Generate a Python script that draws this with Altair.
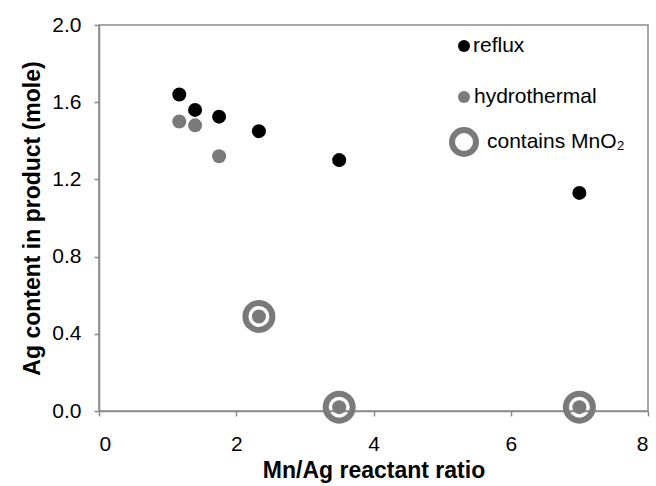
import altair as alt
import pandas as pd

# Data
reflux_x = [1.17, 1.4, 1.75, 2.33, 3.5, 7.0]
reflux_y = [1.64, 1.56, 1.525, 1.45, 1.30, 1.13]
hydro_x = [1.17, 1.4, 1.75, 2.33, 3.5, 7.0]
hydro_y = [1.50, 1.48, 1.32, 0.49, 0.02, 0.02]
mno2_x = [2.33, 3.5, 7.0]
mno2_y = [0.49, 0.02, 0.02]

series = ["reflux", "hydrothermal", "contains MnO\u2082"]

dots = pd.DataFrame(
    [{"ratio": x, "ag": y, "series": series[0]} for x, y in zip(reflux_x, reflux_y)]
    + [{"ratio": x, "ag": y, "series": series[1]} for x, y in zip(hydro_x, hydro_y)]
)
rings = pd.DataFrame({"ratio": mno2_x, "ag": mno2_y})
legend_df = pd.DataFrame({"series": series})

FONT = "Liberation Sans"
AXIS_GRAY = "#8a8a8a"
GRAY = "#7a7a7a"
color_scale = alt.Scale(domain=series[:2], range=["black", GRAY])

xenc = alt.X("ratio:Q", scale=alt.Scale(domain=[0, 8], nice=False),
             axis=alt.Axis(values=[0, 2, 4, 6, 8], title="Mn/Ag reactant ratio",
                           labelPadding=17, titlePadding=5))
yenc = alt.Y("ag:Q", scale=alt.Scale(domain=[0, 2], nice=False),
             axis=alt.Axis(values=[0, 0.4, 0.8, 1.2, 1.6, 2.0], format=".1f",
                           title="Ag content in product (mole)",
                           labelPadding=13, titlePadding=7))

ring_layer = alt.Chart(rings).mark_point(
    shape="circle", size=729, strokeWidth=6, stroke=GRAY, filled=False, opacity=1
).encode(x=xenc, y=yenc)

dot_layer = alt.Chart(dots).mark_circle(size=196, opacity=1).encode(
    x=xenc, y=yenc,
    color=alt.Color("series:N", scale=color_scale, legend=None),
)


def legend_row(name, y_px, text_x):
    base = alt.Chart(legend_df).transform_filter(alt.datum.series == name)
    text = base.mark_text(
        align="left", baseline="middle", font=FONT, fontSize=21, color="black"
    ).encode(x=alt.value(text_x), y=alt.value(y_px), text="series:N")
    if name == series[2]:
        sym = base.mark_point(
            shape="circle", size=576, strokeWidth=6, stroke=GRAY, filled=False, opacity=1
        ).encode(x=alt.value(365), y=alt.value(y_px))
    else:
        sym = base.mark_circle(size=144, opacity=1).encode(
            x=alt.value(365), y=alt.value(y_px),
            color=alt.Color("series:N", scale=color_scale, legend=None),
        )
    return [sym, text]


legend_layers = (
    legend_row(series[0], 21, 374)
    + legend_row(series[1], 72, 375)
    + legend_row(series[2], 117, 388)
)

chart = alt.layer(ring_layer, dot_layer, *legend_layers).properties(
    width=549,
    height=386,
    autosize=alt.AutoSizeParams(type="none"),
    padding={"left": 99, "top": 25, "right": 8, "bottom": 75},
).configure_view(
    stroke=AXIS_GRAY, strokeWidth=1.5
).configure_axis(
    grid=False,
    domainColor=AXIS_GRAY,
    domainWidth=1.5,
    tickColor=AXIS_GRAY,
    tickWidth=1.5,
    tickSize=5,
    labelFont=FONT,
    labelFontSize=21,
    labelColor="black",
    titleFont=FONT,
    titleFontSize=23,
    titleFontWeight="bold",
    titleColor="black",
)

chart.save("out.html", embed_options={"renderer": "svg", "actions": False})
